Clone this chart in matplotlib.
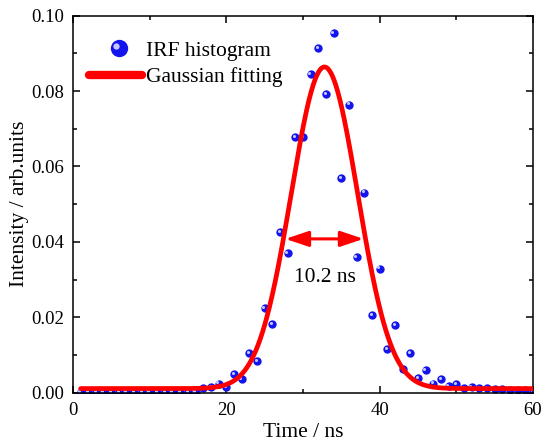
import numpy as np
import matplotlib
matplotlib.use("Agg")
import matplotlib.pyplot as plt
from matplotlib.transforms import offset_copy
from matplotlib.legend_handler import HandlerBase
from matplotlib.lines import Line2D
from matplotlib.ticker import MultipleLocator

plt.rcParams['font.family'] = ['Liberation Serif', 'DejaVu Serif']

# ---- data ----
time_ns = list(range(1, 61))
intensity = [0.0001] * 16 + [
    0.0013, 0.0015, 0.0024, 0.0014, 0.0049, 0.0037, 0.0106, 0.0084,   # 17-24
    0.0224, 0.0182, 0.0427, 0.0371, 0.0679, 0.0679, 0.0844, 0.0915,   # 25-32
    0.0791, 0.0953, 0.0570, 0.0764, 0.0360, 0.0531, 0.0206, 0.0329,   # 33-40
    0.0115, 0.0179, 0.0064, 0.0105, 0.0039, 0.0059, 0.0024, 0.0036,   # 41-48
    0.0017, 0.0023, 0.0013, 0.0015, 0.0012, 0.0012, 0.0009, 0.0009,   # 49-56
    0.0007, 0.0006, 0.0006, 0.0005]                                   # 57-60

# Gaussian fit parameters
fit_center = 32.8
fit_fwhm = 10.2
fit_amplitude = 0.0853
fit_offset = 0.0011
fit_range = (1, 60)

fwhm_y = 0.0408
fwhm_label = "10.2 ns"

x_ticks = [0, 20, 40, 60]
y_ticks = [0.00, 0.02, 0.04, 0.06, 0.08, 0.10]

BLUE = '#1414ec'
HIGHLIGHT = '#c8c8ff'
RED = '#ff0000'


class SphereHandler(HandlerBase):
    def create_artists(self, legend, orig_handle, xdescent, ydescent,
                       width, height, fontsize, trans):
        cx = 0.5 * width - xdescent + 2
        cy = 0.5 * height - ydescent
        body = Line2D([cx], [cy], marker='o', markersize=12.5, color=BLUE,
                      markeredgewidth=0, linestyle='none')
        hl = Line2D([cx - 2.0], [cy + 2.0], marker='o', markersize=4.5,
                    color=HIGHLIGHT, markeredgewidth=0, linestyle='none')
        body.set_transform(trans)
        hl.set_transform(trans)
        return [body, hl]


# ---- figure ----
fig = plt.figure(figsize=(5.5, 4.48), dpi=100)
ax = fig.add_axes([0.1327, 0.1234, 0.8364, 0.8416])

sigma = fit_fwhm / (2 * np.sqrt(2 * np.log(2)))
xf = np.linspace(fit_range[0], fit_range[1], 600)
yf = fit_offset + fit_amplitude * np.exp(-(xf - fit_center) ** 2 / (2 * sigma ** 2))

ax.plot(time_ns, intensity, 'o', color=BLUE, markersize=6.0,
        markeredgewidth=0, zorder=2)
hl_tr = offset_copy(ax.transData, fig=fig, x=-1.2, y=1.2, units='dots')
ax.plot(time_ns, intensity, 'o', color=HIGHLIGHT, markersize=2.2,
        markeredgewidth=0, transform=hl_tr, zorder=2.1)
ax.plot(xf, yf, '-', color=RED, lw=3.4, zorder=3, solid_capstyle='round')

# FWHM arrow
x_left = fit_center - fit_fwhm / 2
x_right = fit_center + fit_fwhm / 2
ax.annotate('', xy=(x_left, fwhm_y), xytext=(x_right, fwhm_y),
            arrowprops=dict(arrowstyle='<|-|>,head_length=1.4,head_width=0.47',
                            color=RED, lw=2.2, shrinkA=0, shrinkB=0),
            zorder=4)
ax.text(fit_center, fwhm_y - 0.0103, fwhm_label, ha='center', va='center',
        fontsize=15.5)

ax.set_xlim(0, 60)
ax.set_ylim(0, 0.10)
ax.set_xticks(x_ticks)
ax.set_yticks(y_ticks)
ax.set_yticklabels([f"{v:.2f}" for v in y_ticks])
ax.xaxis.set_minor_locator(MultipleLocator(10))
ax.yaxis.set_minor_locator(MultipleLocator(0.01))
ax.tick_params(which='both', direction='in', top=True, right=True,
               labelsize=13.5, width=1.1, pad=6.5)
ax.tick_params(which='major', length=5)
ax.tick_params(which='minor', length=3)
for s in ax.spines.values():
    s.set_linewidth(1.1)

ax.set_xlabel('Time / ns', fontsize=15.5, labelpad=3)
ax.set_ylabel('Intensity / arb.units', fontsize=15.5, labelpad=1.5)

# legend
leg_pt = Line2D([], [], marker='o', color=BLUE, linestyle='none')
leg_line = Line2D([], [], color=RED, lw=6, solid_capstyle='round')
ax.legend([leg_pt, leg_line], ['IRF histogram', 'Gaussian fitting'],
          handler_map={leg_pt: SphereHandler()},
          loc='upper left', bbox_to_anchor=(0.017, 0.956), frameon=False,
          fontsize=15.5, handlelength=2.45, handletextpad=0.2,
          labelspacing=0.28, borderaxespad=0)

fig.savefig('out.png', dpi=100)
